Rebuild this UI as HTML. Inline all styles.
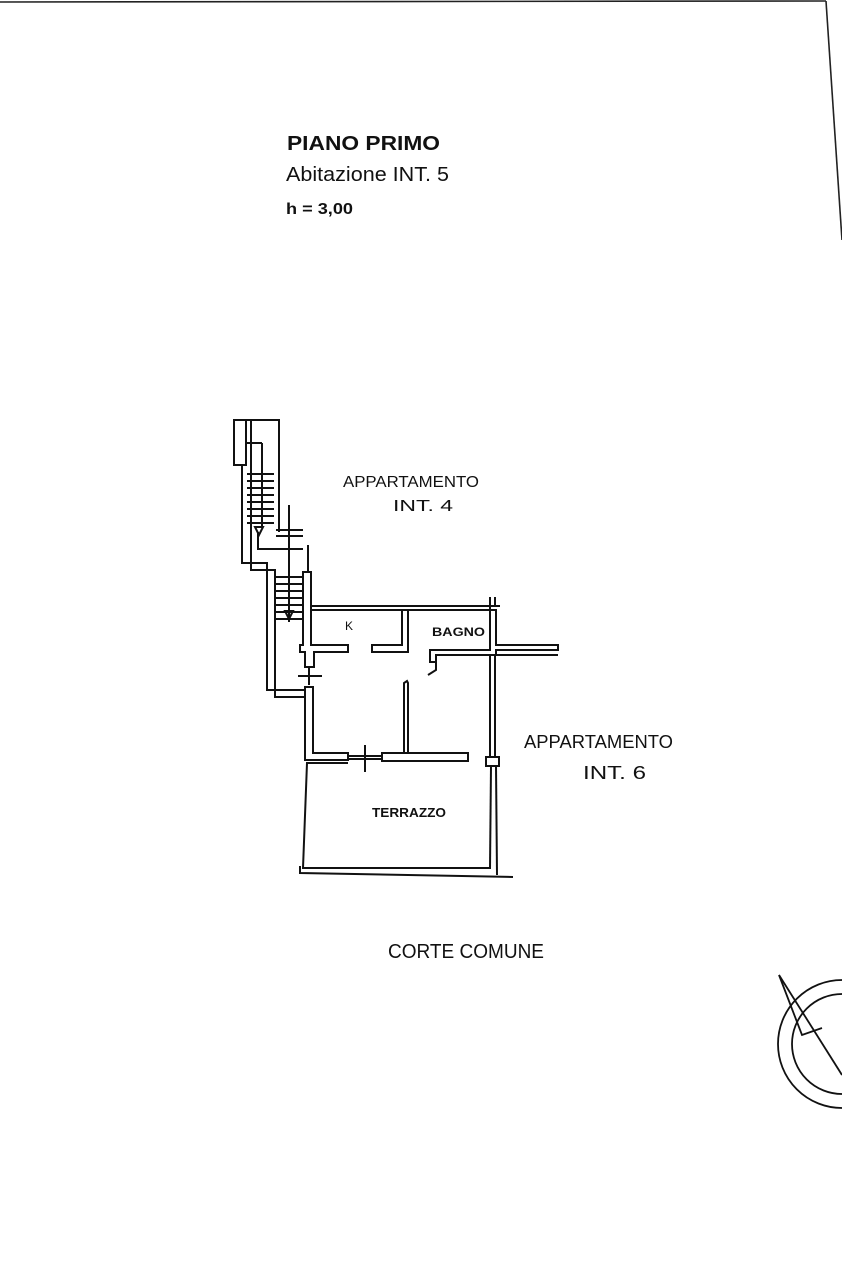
<!DOCTYPE html>
<html><head><meta charset="utf-8"><style>
html,body{margin:0;padding:0;background:#fff;}
svg{display:block}
text{font-family:"Liberation Sans",sans-serif;fill:#111}
</style></head><body>
<svg width="842" height="1263" viewBox="0 0 842 1263" xmlns="http://www.w3.org/2000/svg">
<rect width="842" height="1263" fill="#fff"/>
<g stroke="#222" fill="none" stroke-width="1.6">
<line x1="0" y1="2" x2="826" y2="1"/>
<line x1="826" y1="1" x2="842" y2="240"/>
</g>
<text x="287" y="150" font-size="20" font-weight="bold" textLength="153" lengthAdjust="spacingAndGlyphs">PIANO PRIMO</text>
<text x="286" y="181" font-size="20" textLength="163" lengthAdjust="spacingAndGlyphs">Abitazione INT. 5</text>
<text x="286" y="214" font-size="16" font-weight="bold" textLength="67" lengthAdjust="spacingAndGlyphs">h = 3,00</text>
<text x="343" y="487" font-size="16" textLength="136" lengthAdjust="spacingAndGlyphs">APPARTAMENTO</text>
<text x="393" y="511" font-size="16" textLength="60" lengthAdjust="spacingAndGlyphs">INT. 4</text>
<text x="345" y="630" font-size="12">K</text>
<text x="432" y="636" font-size="12" font-weight="bold" textLength="53" lengthAdjust="spacingAndGlyphs">BAGNO</text>
<text x="524" y="748" font-size="18" textLength="149" lengthAdjust="spacingAndGlyphs">APPARTAMENTO</text>
<text x="583" y="779" font-size="18" textLength="63" lengthAdjust="spacingAndGlyphs">INT. 6</text>
<text x="372" y="817" font-size="13" font-weight="bold" textLength="74" lengthAdjust="spacingAndGlyphs">TERRAZZO</text>
<text x="388" y="958" font-size="20" textLength="156" lengthAdjust="spacingAndGlyphs">CORTE COMUNE</text>
<g stroke="#111" fill="none" stroke-width="2">
<polyline points="234,420 279,420 279,532"/>
<rect x="234" y="420" width="12" height="45"/>
<line x1="246" y1="443" x2="262" y2="443"/>
<line x1="262" y1="443" x2="262" y2="528"/>
<polyline points="251,420 251,570 275,570 275,697 305,697"/>
<polyline points="242,465 242,563 267,563 267,690 305,690"/>
<line x1="247" y1="474" x2="274" y2="474"/>
<line x1="247" y1="481" x2="274" y2="481"/>
<line x1="247" y1="488" x2="274" y2="488"/>
<line x1="247" y1="495" x2="274" y2="495"/>
<line x1="247" y1="502" x2="274" y2="502"/>
<line x1="247" y1="509" x2="274" y2="509"/>
<line x1="247" y1="516" x2="274" y2="516"/>
<line x1="247" y1="523" x2="274" y2="523"/>
<polygon points="255,527 263,527 259,535"/>
<polyline points="258,532 258,549 303,549"/>
<line x1="276" y1="530" x2="303" y2="530"/>
<line x1="276" y1="536" x2="303" y2="536"/>
<line x1="289" y1="505" x2="289" y2="622"/>
<line x1="308" y1="545" x2="308" y2="572"/>
<line x1="275" y1="577" x2="302" y2="577"/>
<line x1="275" y1="584" x2="302" y2="584"/>
<line x1="275" y1="591" x2="302" y2="591"/>
<line x1="275" y1="598" x2="302" y2="598"/>
<line x1="275" y1="605" x2="302" y2="605"/>
<line x1="275" y1="612" x2="302" y2="612"/>
<line x1="275" y1="619" x2="302" y2="619"/>
<polygon points="285,611 293,611 289,619"/>
<polygon points="303,572 311,572 311,645 348,645 348,652 314,652 314,667 305,667 305,652 300,652 300,645 303,645"/>
<line x1="311" y1="606" x2="500" y2="606"/>
<line x1="311" y1="610" x2="405" y2="610"/>
<polygon points="372,645 402,645 402,610 408,610 408,652 372,652"/>
<line x1="408" y1="610" x2="490" y2="610"/>
<polygon points="430,650 490,650 490,610 496,610 496,645 558,645 558,650 496,650 496,655 436,655 436,662 430,662"/>
<line x1="490" y1="597" x2="490" y2="610"/>
<line x1="495" y1="597" x2="495" y2="607"/>
<polyline points="436,658 436,670 428,675"/>
<line x1="496" y1="655" x2="558" y2="655"/>
<line x1="309" y1="667" x2="309" y2="685"/>
<line x1="298" y1="676" x2="322" y2="676"/>
<polygon points="305,687 313,687 313,753 348,753 348,760 305,760"/>
<rect x="382" y="753" width="86" height="8"/>
<line x1="348" y1="756" x2="382" y2="756"/>
<line x1="348" y1="759" x2="382" y2="759"/>
<line x1="365" y1="745" x2="365" y2="772"/>
<polyline points="404,753 404,683 407,681 408,683 408,753"/>
<line x1="490" y1="655" x2="490" y2="757"/>
<line x1="495" y1="655" x2="495" y2="757"/>
<rect x="486" y="757" width="13" height="9"/>
<line x1="491" y1="766" x2="490" y2="868"/>
<line x1="496" y1="766" x2="497" y2="875"/>
<polyline points="348,763 307,763 303,868 491,868"/>
<polyline points="300,866 300,873 513,877"/>
</g>
<g stroke="#111" fill="none" stroke-width="1.8">
<circle cx="842" cy="1044" r="64"/>
<circle cx="842" cy="1044" r="50"/>
<polyline points="779,975 842,1075"/>
<polyline points="779,975 802,1035 822,1028"/>
</g>
</svg>
</body></html>
